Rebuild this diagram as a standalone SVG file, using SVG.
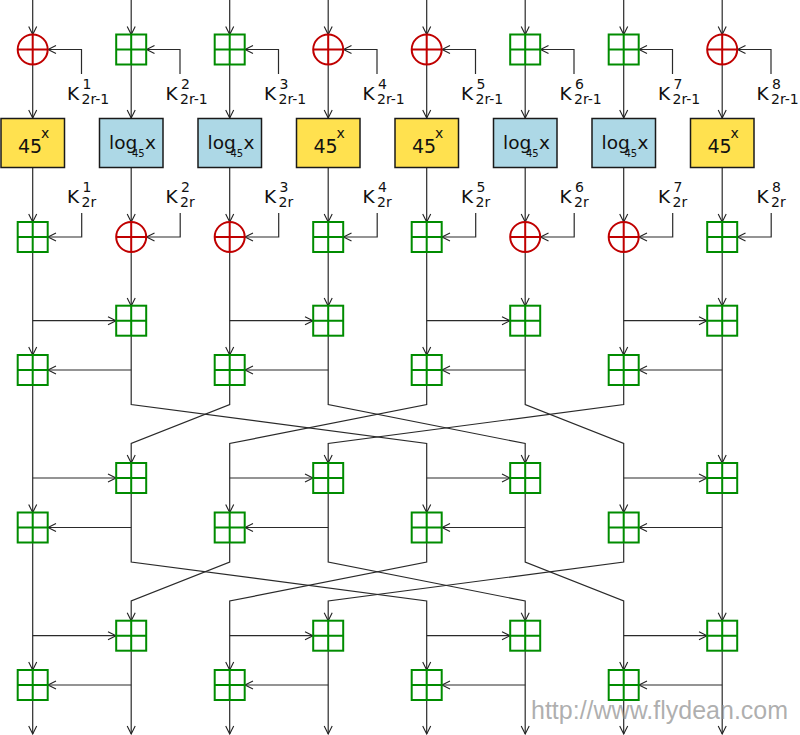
<svg xmlns="http://www.w3.org/2000/svg" xmlns:xlink="http://www.w3.org/1999/xlink" width="800" height="735" viewBox="0 0 800 735">
<style>
text{font-family:"DejaVu Sans",Verdana,sans-serif;fill:#111}
.k{font-size:18.5px}.s{font-size:14px}.f{font-size:19px}.fx{font-size:14px}.l{font-size:18.5px}.b{font-size:10px}
.w{font-family:"Liberation Sans",Arial,sans-serif;font-size:25px;fill:#8c8c8c;fill-opacity:.7}
.wire{fill:none;stroke:#2a2a2a;stroke-width:1.2}
.a{marker-end:url(#ar)}
.add{fill:#fff;stroke:#008c00;stroke-width:2}
.xor{fill:#fff;stroke:#c00000;stroke-width:2}
.ln{fill:none}
.yb{fill:#ffe14f;stroke:#1a1a1a;stroke-width:1.5}
.bb{fill:#add8e6;stroke:#1a1a1a;stroke-width:1.5}
</style>
<defs>
<marker id="ar" markerUnits="userSpaceOnUse" markerWidth="12" markerHeight="12" refX="9" refY="6" orient="auto" overflow="visible"><path d="M1 2L9 6L1 10" fill="none" stroke="#222" stroke-width="1.1"/></marker>
<g id="A"><rect class="add" x="-15" y="-15" width="30" height="30"/><path class="add ln" d="M0-15V15M-15 0H15"/></g>
<g id="X"><circle class="xor" r="15"/><path class="xor ln" d="M0-15V15M-15 0H15"/></g>
</defs>
<g id="connectors">
<path class="wire a" d="M32.7 0V34.5"/><path class="wire a" d="M131.2 0V34.5"/><path class="wire a" d="M229.7 0V34.5"/><path class="wire a" d="M328.2 0V34.5"/><path class="wire a" d="M426.7 0V34.5"/><path class="wire a" d="M525.2 0V34.5"/><path class="wire a" d="M623.7 0V34.5"/><path class="wire a" d="M722.2 0V34.5"/>
<path class="wire a" d="M81.5 74V49.5H48"/><path class="wire a" d="M180 74V49.5H146.5"/><path class="wire a" d="M278.5 74V49.5H245"/><path class="wire a" d="M377 74V49.5H343.5"/><path class="wire a" d="M475.5 74V49.5H442"/><path class="wire a" d="M574 74V49.5H540.5"/><path class="wire a" d="M672.5 74V49.5H639"/><path class="wire a" d="M771 74V49.5H737.5"/>
<path class="wire a" d="M32.7 64.5V118"/><path class="wire a" d="M131.2 64.5V118"/><path class="wire a" d="M229.7 64.5V118"/><path class="wire a" d="M328.2 64.5V118"/><path class="wire a" d="M426.7 64.5V118"/><path class="wire a" d="M525.2 64.5V118"/><path class="wire a" d="M623.7 64.5V118"/><path class="wire a" d="M722.2 64.5V118"/>
<path class="wire a" d="M32.7 168V222"/><path class="wire a" d="M131.2 168V222"/><path class="wire a" d="M229.7 168V222"/><path class="wire a" d="M328.2 168V222"/><path class="wire a" d="M426.7 168V222"/><path class="wire a" d="M525.2 168V222"/><path class="wire a" d="M623.7 168V222"/><path class="wire a" d="M722.2 168V222"/>
<path class="wire a" d="M81.7 213V237H48"/><path class="wire a" d="M180.2 213V237H146.5"/><path class="wire a" d="M278.7 213V237H245"/><path class="wire a" d="M377.2 213V237H343.5"/><path class="wire a" d="M475.7 213V237H442"/><path class="wire a" d="M574.2 213V237H540.5"/><path class="wire a" d="M672.7 213V237H639"/><path class="wire a" d="M771.2 213V237H737.5"/>
<path class="wire a" d="M32.7 252V355"/><path class="wire a" d="M229.7 252V355"/><path class="wire a" d="M426.7 252V355"/><path class="wire a" d="M623.7 252V355"/>
<path class="wire a" d="M131.2 252V306"/><path class="wire a" d="M328.2 252V306"/><path class="wire a" d="M525.2 252V306"/><path class="wire a" d="M722.2 252V306"/>
<path class="wire a" d="M32.7 320.7H116"/><path class="wire a" d="M229.7 320.7H313"/><path class="wire a" d="M426.7 320.7H510"/><path class="wire a" d="M623.7 320.7H707"/>
<path class="wire a" d="M131.2 370H48"/><path class="wire a" d="M328.2 370H245"/><path class="wire a" d="M525.2 370H442"/><path class="wire a" d="M722.2 370H639"/>
<path class="wire a" d="M32.7 385V512.5"/><path class="wire a" d="M722.2 336V463"/>
<path class="wire a" d="M131.2 336V404.5L426.7 443.5V512.5"/>
<path class="wire a" d="M229.7 385V404.5L131.2 443.5V463"/>
<path class="wire a" d="M328.2 336V404.5L525.2 443.5V463"/>
<path class="wire a" d="M426.7 385V404.5L229.7 443.5V512.5"/>
<path class="wire a" d="M525.2 336V404.5L623.7 443.5V512.5"/>
<path class="wire a" d="M623.7 385V404.5L328.2 443.5V463"/>
<path class="wire a" d="M32.7 478H116"/><path class="wire a" d="M229.7 478H313"/><path class="wire a" d="M426.7 478H510"/><path class="wire a" d="M623.7 478H707"/>
<path class="wire a" d="M131.2 527.5H48"/><path class="wire a" d="M328.2 527.5H245"/><path class="wire a" d="M525.2 527.5H442"/><path class="wire a" d="M722.2 527.5H639"/>
<path class="wire a" d="M32.7 542.5V670"/><path class="wire a" d="M722.2 493V620.7"/>
<path class="wire a" d="M131.2 493V562L426.7 601V670"/>
<path class="wire a" d="M229.7 542.5V562L131.2 601V620.7"/>
<path class="wire a" d="M328.2 493V562L525.2 601V620.7"/>
<path class="wire a" d="M426.7 542.5V562L229.7 601V670"/>
<path class="wire a" d="M525.2 493V562L623.7 601V670"/>
<path class="wire a" d="M623.7 542.5V562L328.2 601V620.7"/>
<path class="wire a" d="M32.7 635.7H116"/><path class="wire a" d="M229.7 635.7H313"/><path class="wire a" d="M426.7 635.7H510"/><path class="wire a" d="M623.7 635.7H707"/>
<path class="wire a" d="M131.2 685H48"/><path class="wire a" d="M328.2 685H245"/><path class="wire a" d="M525.2 685H442"/><path class="wire a" d="M722.2 685H639"/>
<path class="wire a" d="M32.7 700V734"/><path class="wire a" d="M131.2 651V734"/><path class="wire a" d="M229.7 700V734"/><path class="wire a" d="M328.2 651V734"/><path class="wire a" d="M426.7 700V734"/><path class="wire a" d="M525.2 651V734"/><path class="wire a" d="M623.7 700V734"/><path class="wire a" d="M722.2 651V734"/>
</g>
<g id="row1">
<use id="n1-1" href="#X" x="32.7" y="49.5"/><use id="n1-2" href="#A" x="131.2" y="49.5"/><use id="n1-3" href="#A" x="229.7" y="49.5"/><use id="n1-4" href="#X" x="328.2" y="49.5"/><use id="n1-5" href="#X" x="426.7" y="49.5"/><use id="n1-6" href="#A" x="525.2" y="49.5"/><use id="n1-7" href="#A" x="623.7" y="49.5"/><use id="n1-8" href="#X" x="722.2" y="49.5"/>
</g>
<g id="row3">
<use id="n3-1" href="#A" x="32.7" y="237"/><use id="n3-2" href="#X" x="131.2" y="237"/><use id="n3-3" href="#X" x="229.7" y="237"/><use id="n3-4" href="#A" x="328.2" y="237"/><use id="n3-5" href="#A" x="426.7" y="237"/><use id="n3-6" href="#X" x="525.2" y="237"/><use id="n3-7" href="#X" x="623.7" y="237"/><use id="n3-8" href="#A" x="722.2" y="237"/>
</g>
<g id="mix">
<use id="m1-2" href="#A" x="131.2" y="320.7"/><use id="m1-4" href="#A" x="328.2" y="320.7"/><use id="m1-6" href="#A" x="525.2" y="320.7"/><use id="m1-8" href="#A" x="722.2" y="320.7"/>
<use id="m2-1" href="#A" x="32.7" y="370"/><use id="m2-3" href="#A" x="229.7" y="370"/><use id="m2-5" href="#A" x="426.7" y="370"/><use id="m2-7" href="#A" x="623.7" y="370"/>
<use id="m3-2" href="#A" x="131.2" y="478"/><use id="m3-4" href="#A" x="328.2" y="478"/><use id="m3-6" href="#A" x="525.2" y="478"/><use id="m3-8" href="#A" x="722.2" y="478"/>
<use id="m4-1" href="#A" x="32.7" y="527.5"/><use id="m4-3" href="#A" x="229.7" y="527.5"/><use id="m4-5" href="#A" x="426.7" y="527.5"/><use id="m4-7" href="#A" x="623.7" y="527.5"/>
<use id="m5-2" href="#A" x="131.2" y="635.7"/><use id="m5-4" href="#A" x="328.2" y="635.7"/><use id="m5-6" href="#A" x="525.2" y="635.7"/><use id="m5-8" href="#A" x="722.2" y="635.7"/>
<use id="m6-1" href="#A" x="32.7" y="685"/><use id="m6-3" href="#A" x="229.7" y="685"/><use id="m6-5" href="#A" x="426.7" y="685"/><use id="m6-7" href="#A" x="623.7" y="685"/>
</g>
<g id="b1"><rect class="yb" x="1" y="118.5" width="63.5" height="49"/><text class="f" x="18" y="153">45</text><text class="fx" x="41" y="138">x</text></g>
<g id="b2"><rect class="bb" x="99.5" y="118.5" width="63.5" height="49"/><text class="l" x="109" y="149">log</text><text class="l" x="145" y="149">x</text><text class="b" x="132" y="157">45</text></g>
<g id="b3"><rect class="bb" x="198" y="118.5" width="63.5" height="49"/><text class="l" x="207.5" y="149">log</text><text class="l" x="243.5" y="149">x</text><text class="b" x="230.5" y="157">45</text></g>
<g id="b4"><rect class="yb" x="296.5" y="118.5" width="63.5" height="49"/><text class="f" x="313.5" y="153">45</text><text class="fx" x="336.5" y="138">x</text></g>
<g id="b5"><rect class="yb" x="395" y="118.5" width="63.5" height="49"/><text class="f" x="412" y="153">45</text><text class="fx" x="435" y="138">x</text></g>
<g id="b6"><rect class="bb" x="493.5" y="118.5" width="63.5" height="49"/><text class="l" x="503" y="149">log</text><text class="l" x="539" y="149">x</text><text class="b" x="526" y="157">45</text></g>
<g id="b7"><rect class="bb" x="592" y="118.5" width="63.5" height="49"/><text class="l" x="601.5" y="149">log</text><text class="l" x="637.5" y="149">x</text><text class="b" x="624.5" y="157">45</text></g>
<g id="b8"><rect class="yb" x="690.5" y="118.5" width="63.5" height="49"/><text class="f" x="707.5" y="153">45</text><text class="fx" x="730.5" y="138">x</text></g>
<g id="keys-a">
<text class="k" x="67" y="100">K</text><text class="s" x="82.5" y="89">1</text><text class="s" x="81.5" y="104">2r-1</text>
<text class="k" x="165.5" y="100">K</text><text class="s" x="181" y="89">2</text><text class="s" x="180" y="104">2r-1</text>
<text class="k" x="264" y="100">K</text><text class="s" x="279.5" y="89">3</text><text class="s" x="278.5" y="104">2r-1</text>
<text class="k" x="362.5" y="100">K</text><text class="s" x="378" y="89">4</text><text class="s" x="377" y="104">2r-1</text>
<text class="k" x="461" y="100">K</text><text class="s" x="476.5" y="89">5</text><text class="s" x="475.5" y="104">2r-1</text>
<text class="k" x="559.5" y="100">K</text><text class="s" x="575" y="89">6</text><text class="s" x="574" y="104">2r-1</text>
<text class="k" x="658" y="100">K</text><text class="s" x="673.5" y="89">7</text><text class="s" x="672.5" y="104">2r-1</text>
<text class="k" x="756.5" y="100">K</text><text class="s" x="772" y="89">8</text><text class="s" x="771" y="104">2r-1</text>
</g>
<g id="keys-b">
<text class="k" x="67" y="203">K</text><text class="s" x="82.5" y="192">1</text><text class="s" x="81.5" y="207">2r</text>
<text class="k" x="165.5" y="203">K</text><text class="s" x="181" y="192">2</text><text class="s" x="180" y="207">2r</text>
<text class="k" x="264" y="203">K</text><text class="s" x="279.5" y="192">3</text><text class="s" x="278.5" y="207">2r</text>
<text class="k" x="362.5" y="203">K</text><text class="s" x="378" y="192">4</text><text class="s" x="377" y="207">2r</text>
<text class="k" x="461" y="203">K</text><text class="s" x="476.5" y="192">5</text><text class="s" x="475.5" y="207">2r</text>
<text class="k" x="559.5" y="203">K</text><text class="s" x="575" y="192">6</text><text class="s" x="574" y="207">2r</text>
<text class="k" x="658" y="203">K</text><text class="s" x="673.5" y="192">7</text><text class="s" x="672.5" y="207">2r</text>
<text class="k" x="756.5" y="203">K</text><text class="s" x="772" y="192">8</text><text class="s" x="771" y="207">2r</text>
</g>
<text class="w" x="531" y="719">http://www.flydean.com</text>
</svg>
